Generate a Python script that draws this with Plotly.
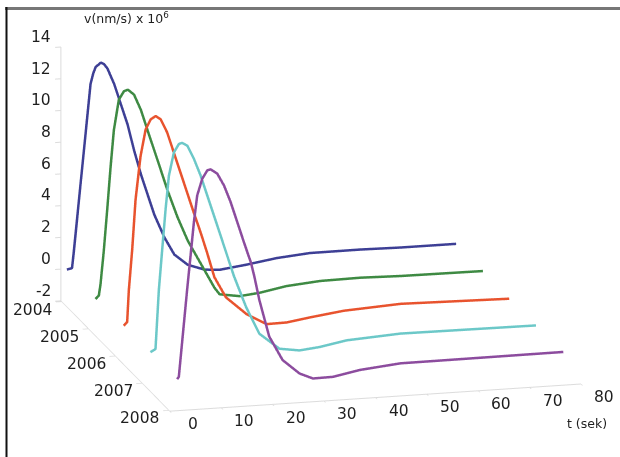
import plotly.graph_objects as go

# ---------------- data ----------------
years = [2004, 2005, 2006, 2007, 2008]
year_labels = ["2004", "2005", "2006", "2007", "2008"]
t_ticks = [0, 10, 20, 30, 40, 50, 60, 70, 80]
v_ticks = [-2, 0, 2, 4, 6, 8, 10, 12, 14]

t_2004 = [1.0, 2.0, 2.35, 3.0, 3.66, 4.3, 4.95, 5.6, 6.13, 6.6, 7.6, 8.22, 8.9, 10.2, 11.5, 12.8, 14.1, 15.4, 16.7, 18.0, 20.0, 21.9, 24.5, 27.8, 30.7, 35.9, 41.8, 48.3, 58.1, 65.9, 76.7]
v_2004 = [0.0, 0.07, 1.1, 3.2, 5.35, 7.4, 9.5, 11.6, 12.26, 12.65, 12.9, 12.8, 12.5, 11.5, 10.2, 8.9, 7.2, 5.7, 4.4, 3.1, 1.6, 0.5, -0.2, -0.58, -0.65, -0.44, -0.15, 0.03, 0.04, 0.0, 0.0]

t_2005 = [1.35, 2.0, 2.33, 2.97, 3.62, 4.29, 4.93, 5.9, 6.89, 7.67, 8.85, 10.16, 11.45, 12.76, 14.07, 15.36, 17.3, 19.3, 21.9, 24.5, 25.5, 29.4, 33.3, 38.5, 45.0, 52.9, 60.7, 76.7]
v_2005 = [-0.15, 0.05, 0.76, 2.86, 5.38, 8.12, 10.43, 12.32, 12.83, 12.91, 12.57, 11.6, 10.3, 9.0, 7.7, 6.4, 4.67, 3.14, 1.6, 0.06, -0.37, -0.57, -0.44, -0.13, 0.05, 0.09, 0.03, 0.0]

t_2006 = [1.64, 2.3, 2.62, 3.27, 3.93, 4.9, 5.9, 6.87, 7.85, 8.83, 10.1, 11.4, 12.7, 14.0, 15.3, 16.65, 17.9, 19.26, 21.5, 25.5, 29.4, 33.3, 37.8, 44.4, 55.5, 76.6]
v_2006 = [-0.13, 0.1, 2.07, 4.6, 7.76, 10.49, 12.16, 12.77, 12.96, 12.73, 11.86, 10.56, 9.27, 7.97, 6.67, 5.37, 4.07, 2.56, 1.24, 0.1, -0.62, -0.6, -0.38, -0.1, 0.1, -0.03]

t_2007 = [1.62, 2.6, 3.25, 3.9, 4.56, 5.2, 6.18, 7.16, 7.8, 8.79, 10.1, 11.4, 12.7, 14.0, 15.3, 16.6, 17.9, 20.2, 22.8, 26.7, 30.6, 34.5, 39.8, 50.2, 76.6]
v_2007 = [-0.08, 0.1, 3.8, 6.33, 8.86, 10.96, 12.42, 12.93, 12.98, 12.78, 11.9, 10.82, 9.52, 8.23, 6.93, 5.63, 4.33, 2.38, 0.63, -0.4, -0.59, -0.46, -0.15, 0.05, 0.0]

t_2008 = [1.59, 1.92, 3.54, 4.2, 4.85, 5.5, 6.48, 7.46, 8.12, 9.4, 10.7, 12.0, 13.3, 14.6, 15.95, 16.6, 17.57, 19.5, 22.1, 25.4, 28.0, 31.9, 37.1, 45.0, 76.7]
v_2008 = [-0.07, 0.07, 5.54, 7.64, 9.75, 11.43, 12.46, 12.97, 13.02, 12.72, 11.95, 10.87, 9.57, 8.27, 6.97, 6.1, 4.6, 2.24, 0.7, -0.22, -0.59, -0.57, -0.25, 0.0, 0.04]

t_series = [t_2004, t_2005, t_2006, t_2007, t_2008]
v_series = [v_2004, v_2005, v_2006, v_2007, v_2008]
colors = ["#3d3f95", "#3e8a43", "#e8532e", "#6cc8c8", "#8c4c9e"]

# ---------------- figure ----------------
fig = go.Figure()
for yr, ts, vs, c in zip(years, t_series, v_series, colors):
    fig.add_trace(go.Scatter3d(
        x=[yr] * len(ts), y=ts, z=vs,
        mode="lines", line=dict(color=c, width=5),
        name=str(yr), showlegend=False))

TXT = "#1e1e1e"
font = dict(family="DejaVu Sans", size=15.5, color=TXT)
axis_common = dict(
    showbackground=False, showgrid=False, zeroline=False,
    showline=True, linecolor="#dcdcdc", linewidth=2,
    ticks="outside", ticklen=6, tickcolor="#dcdcdc", tickwidth=2,
    showticklabels=False, title=dict(text=""), showspikes=False,
)

# tick labels placed at the axis tick positions (shifted like the original)
scene_ann = []
for v in v_ticks:
    scene_ann.append(dict(x=years[0], y=t_ticks[0], z=v, text=str(v), showarrow=False,
                          xanchor="right", yanchor="middle", xshift=-9, yshift=11, font=font))
for yr, lab in zip(years, year_labels):
    scene_ann.append(dict(x=yr, y=t_ticks[0], z=v_ticks[0], text=lab, showarrow=False,
                          xanchor="center", yanchor="middle", xshift=-29, yshift=-8, font=font))
for t in t_ticks:
    scene_ann.append(dict(x=years[-1], y=t, z=v_ticks[0], text=str(t), showarrow=False,
                          xanchor="center", yanchor="middle", xshift=24, yshift=-14, font=font))

S = 1.97
D = 4.0
eye = dict(x=0.936 * D, y=-0.239 * D, z=0.259 * D)

fig.update_layout(
    width=620, height=457,
    margin=dict(l=0, r=0, t=0, b=0),
    paper_bgcolor="white",
    scene=dict(
        domain=dict(x=[22 / 620, 1], y=[26 / 457, 1]),
        xaxis=dict(axis_common, range=[2003.97, 2008.03], tickvals=years),
        yaxis=dict(axis_common, range=[0, 80], tickvals=t_ticks),
        zaxis=dict(axis_common, range=[-2, 14], tickvals=v_ticks),
        aspectmode="manual",
        aspectratio=dict(x=1.036 * S, y=1.0 * S, z=0.619 * S),
        camera=dict(eye=eye, center=dict(x=0, y=0, z=0), up=dict(x=0, y=0, z=1),
                    projection=dict(type="orthographic")),
        annotations=scene_ann,
    ),
    annotations=[
        dict(text="v(nm/s) x 10<sup>6</sup>", xref="paper", yref="paper",
             x=82 / 620, y=1 - 18 / 457, xanchor="left", yanchor="middle",
             showarrow=False, font=dict(family="DejaVu Sans", size=12.5, color=TXT)),
        dict(text="t (sek)", xref="paper", yref="paper",
             x=587 / 620, y=1 - 423 / 457, xanchor="center", yanchor="middle",
             showarrow=False, font=dict(family="DejaVu Sans", size=12.5, color=TXT)),
    ],
    shapes=[
        dict(type="line", xref="paper", yref="paper", x0=5 / 620, x1=1, y0=1 - 8.5 / 457, y1=1 - 8.5 / 457,
             line=dict(color="#777777", width=3)),
        dict(type="line", xref="paper", yref="paper", x0=6.5 / 620, x1=6.5 / 620, y0=0, y1=1 - 7 / 457,
             line=dict(color="#111111", width=2)),
    ],
)

fig.write_html("out.html", config={"displayModeBar": False},
               post_script="document.body.style.margin='0px';document.body.style.overflow='hidden';")
